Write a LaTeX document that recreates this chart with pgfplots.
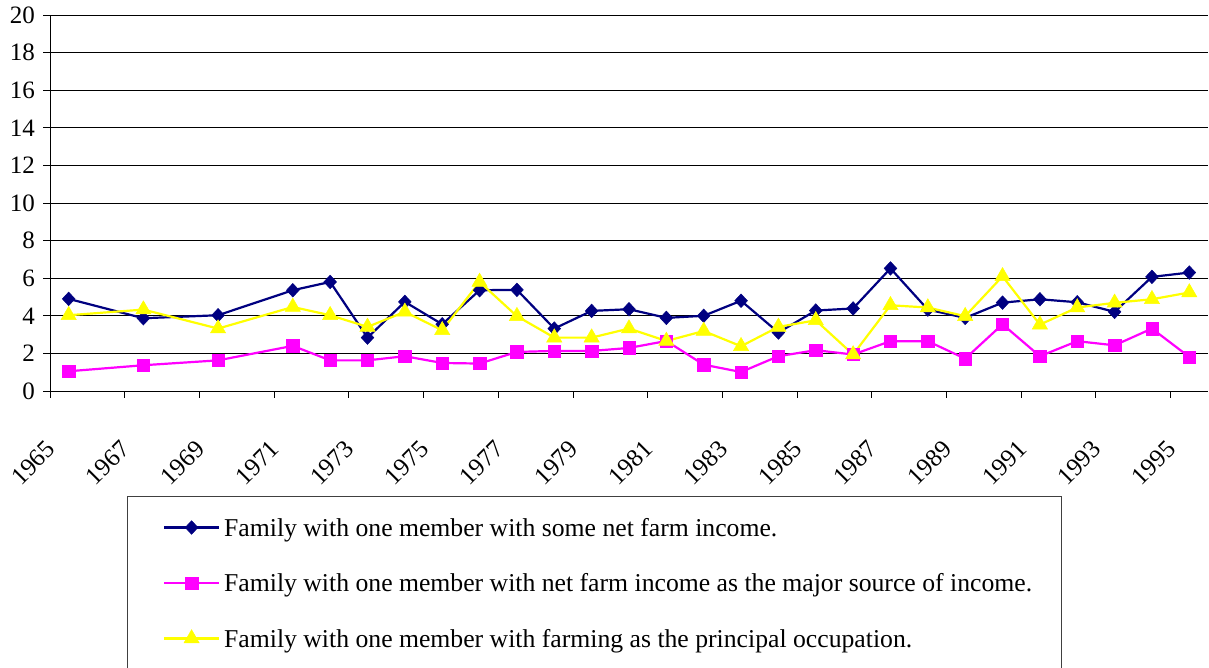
\documentclass[border=0pt]{standalone}
\usepackage{fontspec}
\setmainfont{Liberation Serif}
\usepackage{pgfplots}
\usepackage{pgfplotstable}
\pgfplotsset{compat=1.18}

\definecolor{navyc}{RGB}{0,0,128}
\definecolor{magc}{RGB}{255,0,255}
\definecolor{yelc}{RGB}{255,255,0}

\pgfplotstableread{
year  some  major  occup
1965  4.90  1.05  4.03
1967  3.87  1.37  4.33
1969  4.03  1.63  3.32
1971  5.36  2.40  4.47
1972  5.80  1.63  4.03
1973  2.84  1.63  3.41
1974  4.74  1.85  4.21
1975  3.55  1.49  3.23
1976  5.36  1.46  5.80
1977  5.38  2.08  3.98
1978  3.32  2.13  2.84
1979  4.26  2.13  2.84
1980  4.35  2.29  3.32
1981  3.89  2.66  2.66
1982  4.00  1.40  3.19
1983  4.80  1.01  2.38
1984  3.11  1.85  3.41
1985  4.28  2.17  3.76
1986  4.39  1.94  1.94
1987  6.52  2.65  4.56
1988  4.33  2.65  4.44
1989  3.89  1.72  3.98
1990  4.70  3.55  6.10
1991  4.88  1.85  3.53
1992  4.72  2.65  4.44
1993  4.21  2.43  4.69
1994  6.07  3.32  4.88
1995  6.30  1.81  5.24
}\datatable

\begin{document}
\begin{tikzpicture}
\path[use as bounding box] (0,0) rectangle (1209pt,668pt);
\begin{axis}[
  at={(50pt,277pt)}, anchor=south west,
  scale only axis,
  width=1158pt, height=376pt,
  xmin=1965, xmax=1996,
  ymin=0, ymax=20,
  axis x line*=bottom, axis y line*=left,
  axis line style={black, line width=0.9pt},
  xtick={1965,1967,...,1995},
  ytick={0,2,...,20},
  tick align=outside,
  major tick length=7pt,
  tick style={black, line width=0.9pt},
  ymajorgrids,
  major grid style={black, line width=0.9pt},
  /pgf/number format/1000 sep={},
  /pgf/number format/assume math mode=true,
  tick label style={font=\fontsize{25}{29}\selectfont},
  yticklabel style={anchor=east, inner sep=0pt, xshift=-8pt},
  xticklabel style={xshift=1pt, yshift=-17pt, rotate=45, anchor=east, inner sep=0pt},
  xticklabel shift=30pt,
  legend style={
    at={(axis description cs:0.09758,-0.3298)}, anchor=north west,
    draw=none, fill=none, inner sep=0pt, outer sep=0pt,
    /tikz/column sep=4pt, /tikz/row sep=30.5pt,
    font=\fontsize{25.7}{30}\selectfont,
    nodes={inner sep=0pt, text height=21pt, text depth=4pt},
  },
  legend cell align=left,
  legend image code/.code={\draw[mark repeat=2,mark phase=2,#1] plot coordinates {(0pt,0pt) (27.5pt,0pt) (55pt,0pt)};},
  every axis plot/.append style={line width=2.2pt},
]
\addplot[navyc, mark=diamond*, mark size=6.8pt, mark options={solid, fill=navyc, line width=0.5pt, xscale=1.25}]
  table[x expr=\thisrow{year}+0.5, y=some] {\datatable};
\addlegendentry{Family with one member with some net farm income.}
\addplot[magc, mark=square*, mark size=6.2pt, mark options={solid, fill=magc, line width=0.5pt}]
  table[x expr=\thisrow{year}+0.5, y=major] {\datatable};
\addlegendentry{Family with one member with net farm income as the major source of income.}
\addplot[yelc, mark=triangle*, mark size=8.8pt, mark options={solid, fill=yelc, line width=0.5pt}]
  table[x expr=\thisrow{year}+0.5, y=occup] {\datatable};
\addlegendentry{Family with one member with farming as the principal occupation.}
\end{axis}
\draw[black!75, line width=1pt] (127pt,171pt) rectangle (1061pt,-40pt);
\end{tikzpicture}
\end{document}
